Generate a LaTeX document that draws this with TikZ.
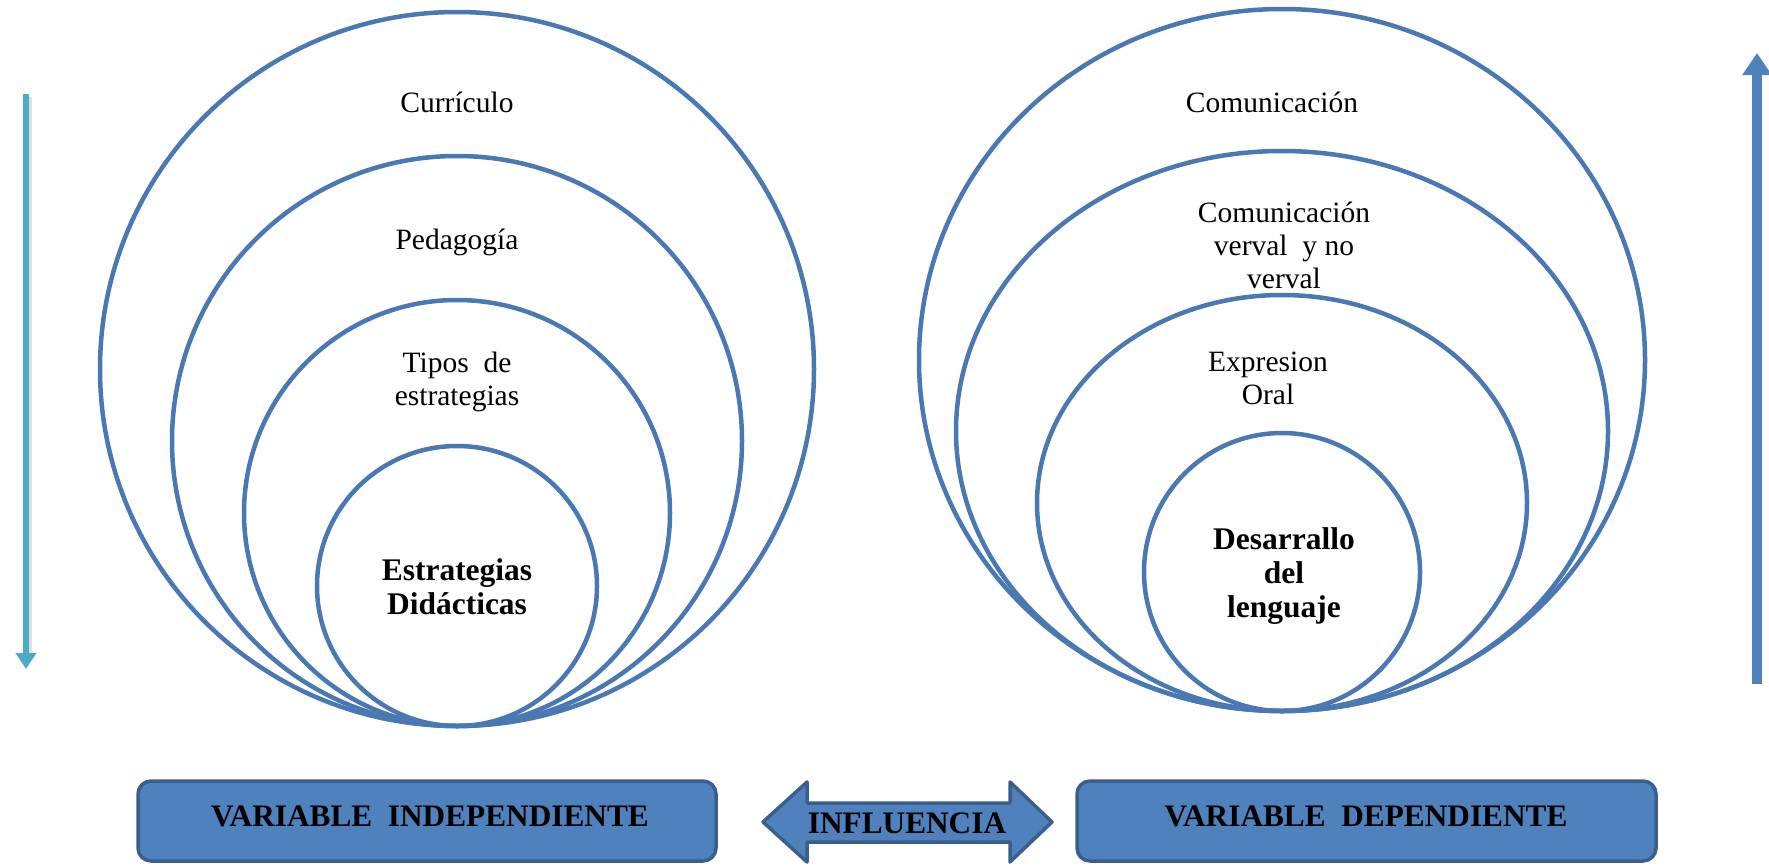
\documentclass[tikz,border=0pt]{standalone}
\usepackage{fontspec}
\setmainfont{Liberation Serif}
\usetikzlibrary{arrows.meta,calc}
\definecolor{ringblue}{HTML}{4A78B2}
\definecolor{boxfill}{HTML}{4F81BD}
\definecolor{boxline}{HTML}{3B5F8C}
\definecolor{aqua}{HTML}{4BACC6}
\definecolor{upblue}{HTML}{4F81BD}
\tikzset{
  ring/.style={draw=ringblue, line width=4.5pt},
  lbl/.style={align=center, font=\fontsize{29.5}{33}\selectfont, inner sep=0pt},
  blbl/.style={align=center, font=\fontsize{31.5}{34}\selectfont\bfseries, inner sep=0pt},
  varbox/.style={draw=boxline, fill=boxfill, line width=3.5pt, rounded corners=13pt},
  vartext/.style={font=\fontsize{31.3}{34}\selectfont\bfseries, inner sep=0pt}
}
\begin{document}
\begin{tikzpicture}[x=1pt,y=-1pt]
\useasboundingbox (0,0) rectangle (1769,867);
% left rings
\draw[ring] (457,369) circle (357);
\draw[ring] (457,441) circle (285);
\draw[ring] (457,513) circle (213);
\draw[ring] (457,586) circle (140);
% right rings
\draw[ring] (1282,360) ellipse (363 and 351);
\draw[ring] (1282,431) ellipse (326 and 280);
\draw[ring] (1282,503) ellipse (245 and 208);
\draw[ring] (1282,572) ellipse (138 and 139);
% left labels
\node[lbl] (curr) at (457,102) {Currículo};
\node[lbl] (ped) at (457,242) {Pedagogía};
\node[lbl] (tipos) at (457,382) {Tipos\ \ de\\estrategias};
\node[blbl] (estr) at (457,587) {Estrategias\\Didácticas};
% right labels
\node[lbl] (com) at (1272,102) {Comunicación};
\node[lbl] (cvnv) at (1284,245) {Comunicación\\verval\ \ y no\\verval};
\node[lbl] (expr) at (1268,378) {Expresion\\Oral};
\node[blbl] (desa) at (1284,576) {Desarrallo\\del\\lenguaje};
% side arrows
\coordinate (la1) at (26,94);
\coordinate (la2) at (26,669);
\draw[gray!25, line width=6pt] ($(la1)+(3,3)$) -- ($(la2)+(3,-10)$);
\draw[aqua, line width=6pt, -{Triangle[width=20pt,length=16pt]}] (la1) -- (la2);
\coordinate (ra1) at (1757,684);
\coordinate (ra2) at (1757,53);
\draw[upblue, line width=10pt, -{Triangle[width=28pt,length=22pt]}] (ra1) -- (ra2);
% bottom boxes
\draw[varbox] (138,781) rectangle (716,861);
\node[vartext] (vi) at (430,816) {VARIABLE\ \ INDEPENDIENTE};
\draw[varbox] (1077,781) rectangle (1656,861);
\node[vartext] (vd) at (1366,816) {VARIABLE\ \ DEPENDIENTE};
% double arrow
\draw[draw=boxline, fill=boxfill, line width=3.5pt, line join=round]
  (763,822) -- (807,782) -- (807,803) -- (1010,803) -- (1010,782) -- (1052,822)
  -- (1010,862) -- (1010,842) -- (807,842) -- (807,862) -- cycle;
\node[vartext] (infl) at (907,823) {INFLUENCIA};
\end{tikzpicture}
\end{document}
